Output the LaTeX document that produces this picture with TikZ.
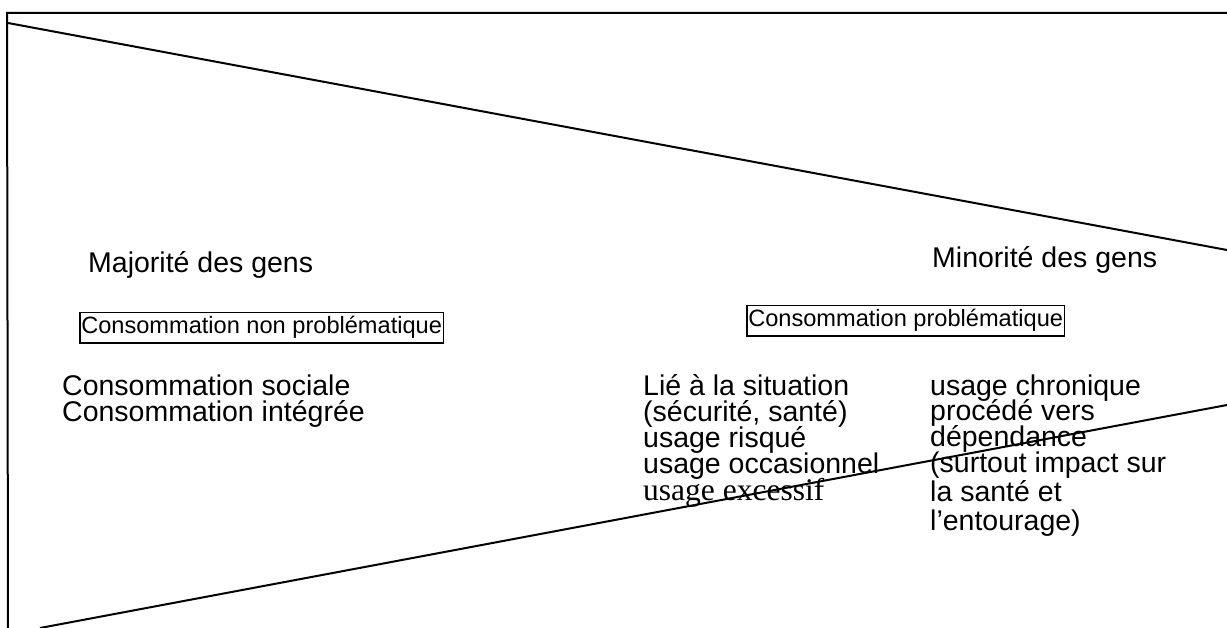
\documentclass[tikz,border=0pt]{standalone}
\usepackage{fontspec}
\setmainfont{Liberation Sans}
\newfontfamily\serifface{Liberation Serif}
\setlength{\lineskiplimit}{-60pt}
\begin{document}
\begin{tikzpicture}[x=1pt,y=-1pt,
  edge/.style={line width=2pt,black},
  maintext/.style={inner sep=0pt,anchor=base west,align=left,font=\fontsize{28.5}{25.8}\selectfont},
  boxtext/.style={draw,line width=1.5pt,inner xsep=1.5pt,inner ysep=4pt,anchor=base west,font=\fontsize{23.6}{26}\selectfont}]
\useasboundingbox (0,0) rectangle (1227,628);
% frame and wedge lines
\coordinate (tl) at (7,13);
\coordinate (tr) at (1227,13);
\coordinate (bl) at (8,628);
\coordinate (d1a) at (8,23);
\coordinate (d1b) at (1227,250);
\coordinate (d2a) at (40,628);
\coordinate (d2b) at (1227,405);
\draw[edge] (tr) -- (tl) -- (bl);
\draw[edge] (d1a) -- (d1b);
\draw[edge] (d2a) -- (d2b);
% headings
\node[maintext] (maj) at (88,273) {Majorité des gens};
\node[maintext] (min) at (932,268) {Minorité des gens};
% boxes
\node[boxtext] (nonprob) at (79,334) {Consommation non problématique};
\node[boxtext] (prob) at (746,327) {Consommation problématique};
% columns (anchor = baseline of the last line)
\node[maintext] (left) at (62,421.5) {Consommation sociale\\Consommation intégrée};
\node[maintext] (mid) at (643,473) {Lié à la situation\\(sécurité, santé)\\usage risqué\\usage occasionnel};
\node[inner sep=0pt,anchor=base west,font=\serifface\fontsize{31.5}{26}\selectfont] (exc) at (643,500) {usage excessif};
\node[maintext] (right) at (930,530) {usage chronique\\procédé vers\\dépendance\\(surtout impact sur\\[3pt]la santé et\\[3pt]l'entourage)};
\end{tikzpicture}
\end{document}
